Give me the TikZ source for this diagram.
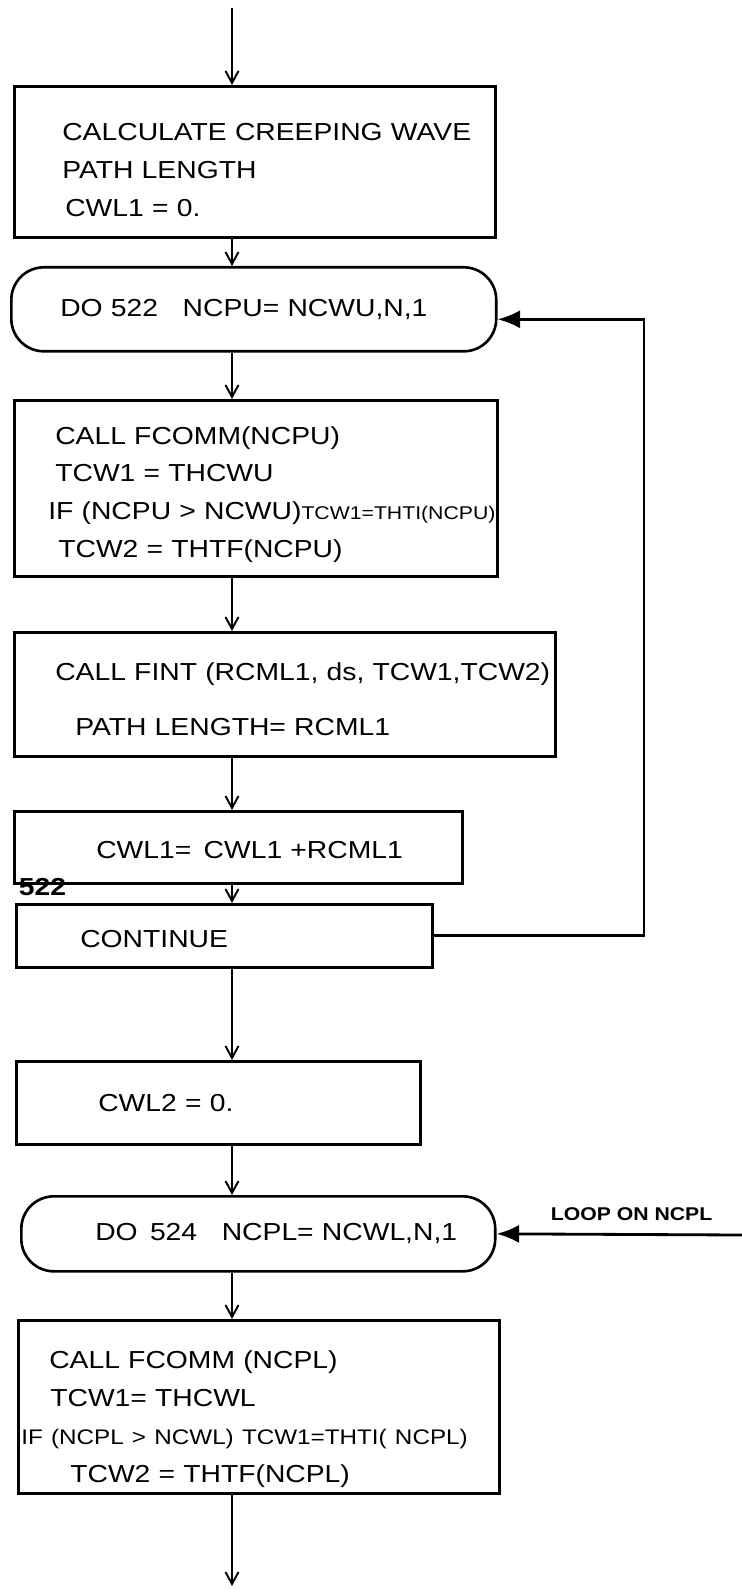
\documentclass[tikz,border=0pt]{standalone}
\usepackage{fontspec}
\setmainfont{Liberation Sans}[FakeStretch=1.15]
\usetikzlibrary{arrows.meta}

\begin{document}
\begin{tikzpicture}[
  x=0.02cm, y=-0.02cm,
  >={Straight Barb[length=2.4mm,width=2.6mm]},
  every node/.style={font=\fontsize{14}{21.5}\selectfont},
  proc/.style={draw,line width=1.5pt,anchor=north west,inner xsep=0pt,inner ysep=0pt,align=left},
  loopbox/.style={proc,rounded corners=0.65cm},
  textdown/.style={execute at begin node={\rule{0pt}{#1}}},
  flow/.style={->,line width=1.1pt},
  back/.style={-{Latex[length=4.5mm,width=3.6mm]},line width=1.6pt}
]
\useasboundingbox (0,0) rectangle (742,1594);
\coordinate (spine) at (232,0);
\coordinate (start) at (232,8);
\coordinate (finish) at (232,1586);

% creeping wave, upper side
\node[proc,textdown=19pt,text width=9.62cm,minimum height=3.02cm] (box1) at (13,85)
  {\hspace*{0.96cm}CALCULATE CREEPING WAVE\\
   \hspace*{0.96cm}PATH LENGTH\\
   \hspace*{1.02cm}CWL1 = 0.};
\node[loopbox,text width=9.70cm,minimum height=1.68cm] (loop1) at (10,266)
  {\hspace*{0.98cm}DO 522\quad NCPU= NCWU,N,1};
\node[proc,textdown=17pt,text width=9.66cm,minimum height=3.52cm] (box2) at (13,399)
  {\hspace*{0.82cm}CALL FCOMM(NCPU)\\
   \hspace*{0.82cm}TCW1 = THCWU\\
   \hspace*{0.68cm}IF (NCPU > NCWU){\fontsize{10.5}{21.5}\selectfont TCW1=THTI(NCPU)}\\
   \hspace*{0.88cm}TCW2 = THTF(NCPU)};
\node[proc,textdown=16pt,text width=10.82cm,minimum height=2.48cm] (box3) at (13,631)
  {\hspace*{0.82cm}CALL FINT (RCML1, ds, TCW1,TCW2)\\[10pt]
   \hspace*{1.22cm}PATH LENGTH= RCML1};
\node[proc,textdown=13.4pt,text width=8.96cm,minimum height=1.44cm] (box4) at (13,810)
  {\hspace*{1.64cm}CWL1=\enspace CWL1 +RCML1};
\node[proc,textdown=13.4pt,text width=8.32cm,minimum height=1.26cm] (box5) at (15,903)
  {\hspace*{1.28cm}CONTINUE};
\node[anchor=south west,inner xsep=2pt,inner ysep=4pt,font=\fontsize{14}{16}\bfseries] (lbl522) at (box5.north west) {522};

% lower side
\node[proc,text width=8.08cm,minimum height=1.66cm] (box6) at (15,1060)
  {\hspace*{1.64cm}CWL2 = 0.};
\node[loopbox,text width=9.48cm,minimum height=1.50cm] (loop2) at (20,1195)
  {\hspace*{1.48cm}DO\enspace 524\quad NCPL= NCWL,N,1};
\node[proc,textdown=24pt,text width=9.62cm,minimum height=3.46cm] (box7) at (17,1319)
  {\hspace*{0.62cm}CALL FCOMM (NCPL)\\
   \hspace*{0.64cm}TCW1= THCWL\\
   \hspace*{0.06cm}{\fontsize{12}{21.5}\selectfont IF (NCPL > NCWL) TCW1=THTI( NCPL)}\\
   \hspace*{1.04cm}TCW2 = THTF(NCPL)};

% flow down the spine
\draw[flow] (start) -- (box1.north -| spine);
\draw[flow] (box1.south -| spine) -- (loop1.north -| spine);
\draw[flow] (loop1.south -| spine) -- (box2.north -| spine);
\draw[flow] (box2.south -| spine) -- (box3.north -| spine);
\draw[flow] (box3.south -| spine) -- (box4.north -| spine);
\draw[flow] (box4.south -| spine) -- (box5.north -| spine);
\draw[flow] (box5.south -| spine) -- (box6.north -| spine);
\draw[flow] (box6.south -| spine) -- (loop2.north -| spine);
\draw[flow] (loop2.south -| spine) -- (box7.north -| spine);
\draw[flow] (box7.south -| spine) -- (finish);

% loop returns
\coordinate (ret) at (644,0);
\coordinate (in1) at ([yshift=-0.2cm]loop1.east);
\draw[back] (box5.east) -| (ret |- in1) -- (in1);
\coordinate (inl) at (742,1235);
\draw[back] (inl) -- (loop2.east)
  node[pos=0.45,above=4pt,font=\fontsize{10.5}{13}\bfseries] (note) {LOOP ON NCPL};
\end{tikzpicture}
\end{document}
